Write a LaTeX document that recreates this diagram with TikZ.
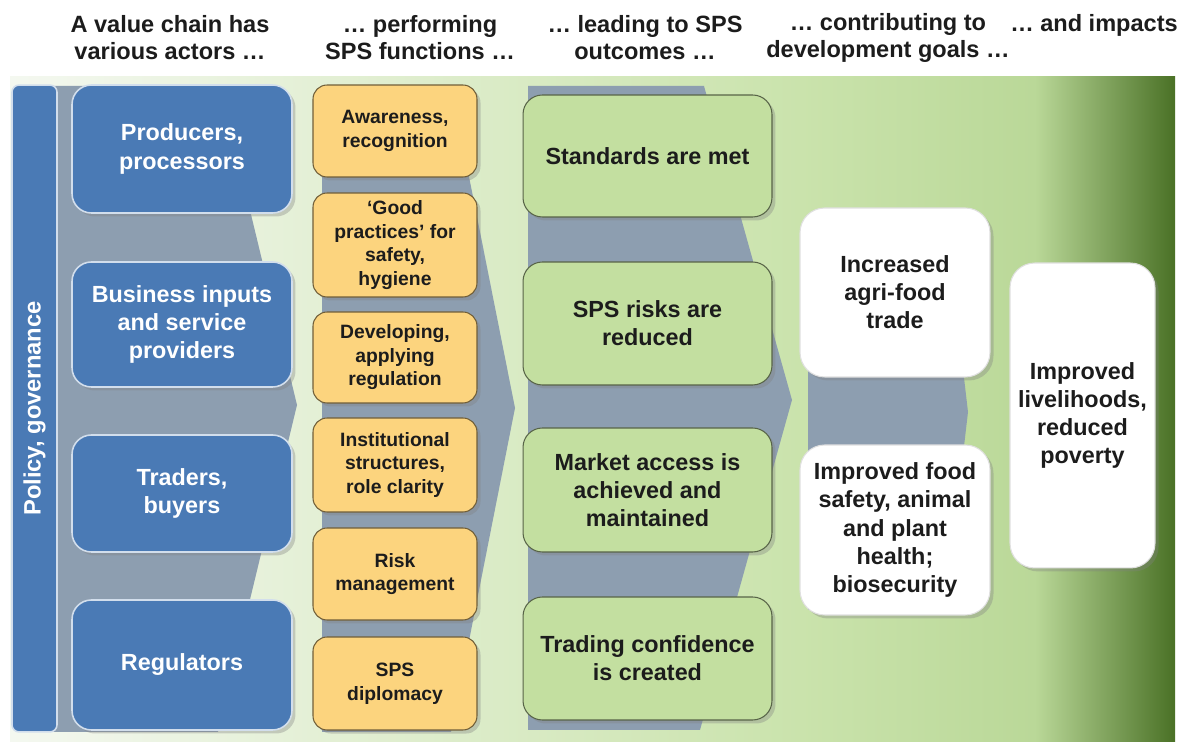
\documentclass[tikz,border=0pt]{standalone}
\usepackage{fontspec}
\setmainfont{Liberation Sans}
\usetikzlibrary{shadows}

\definecolor{actorblue}{HTML}{4A7AB5}
\definecolor{funcyellow}{HTML}{FCD47E}
\definecolor{outgreen}{HTML}{C3DFA0}
\definecolor{chevgray}{HTML}{8D9EB0}
\definecolor{bgpale}{HTML}{F4F8F0}
\definecolor{bgmid}{HTML}{CAE3AC}
\definecolor{bglight}{HTML}{BAD898}
\definecolor{bgdark}{HTML}{4A7126}
\definecolor{textdark}{HTML}{1C1C1C}

\tikzset{
  box/.style={rounded corners=11pt, align=center, inner sep=2pt, text=textdark,
    font=\bfseries\fontsize{13.3}{16}\selectfont,
    drop shadow={shadow xshift=2pt, shadow yshift=-2pt, opacity=0.35}},
  actor/.style={box, fill=actorblue, draw=actorblue!25!white, line width=0.9pt,
    text=white, minimum width=4.4cm},
  func/.style={box, fill=funcyellow, draw=funcyellow!45!black, line width=0.6pt,
    rounded corners=8pt, font=\bfseries\fontsize{11}{13.4}\selectfont, minimum width=3.28cm},
  outcome/.style={box, fill=outgreen, draw=outgreen!45!black, line width=0.6pt,
    minimum width=4.98cm},
  goal/.style={box, fill=white, draw=black!12, line width=0.6pt, rounded corners=14pt},
  policybar/.style={fill=actorblue, draw=actorblue!25!white, line width=0.9pt,
    rounded corners=4pt, text=white, font=\bfseries\fontsize{13.5}{16}\selectfont},
  head/.style={align=center, text=textdark, font=\bfseries\fontsize{13.4}{15.4}\selectfont},
  chevron/.style={fill=chevgray, draw=none},
}

\begin{document}
\begin{tikzpicture}[x=0.02cm, y=-0.02cm]
\useasboundingbox (0,0) rectangle (1188,742);
\fill[white] (0,0) rectangle (1188,742);

% Background
\fill[left color=bgpale, right color=bgmid] (10,77) rectangle (800,742);
\fill[left color=bgmid, right color=bglight] (800,77) rectangle (1035,742);
\fill[left color=bglight, right color=bgdark] (1035,77) rectangle (1175,742);

% Chevrons
\fill[chevron] (50,86) -- (220,86) -- (297,405) -- (218,732) -- (50,732) -- cycle;
\fill[chevron] (322,86) -- (451,86) -- (515,408) -- (451,732) -- (322,732) -- cycle;
\fill[chevron] (528,86) -- (704,86) -- (792,400) -- (700,730) -- (528,730) -- cycle;
\fill[chevron] (808,215) -- (945,215) -- (968,412) -- (945,610) -- (808,610) -- cycle;

% Headings
\node[head] (hactors) at (170,38) {A value chain has\\various actors …};
\node[head] (hfunctions) at (420,38) {… performing\\SPS functions …};
\node[head] (houtcomes) at (645,38) {… leading to SPS\\outcomes …};
\node[head] (hgoals) at (888,38) {… contributing to\\development goals …};
\node[head] (himpacts) at (1094,25) {… and impacts};

% Policy
\node[policybar, rotate=90, minimum width=12.94cm, minimum height=0.9cm] (policy) at (34.5,408.5) {Policy, governance};

% Actors
\node[actor, minimum height=2.56cm] (producers) at (182,149) {Producers,\\processors};
\node[actor, minimum height=2.5cm] (business) at (182,324.5) {Business inputs\\and service\\providers};
\node[actor, minimum height=2.34cm] (traders) at (182,493.5) {Traders,\\buyers};
\node[actor, minimum height=2.6cm] (regulators) at (182,665) {Regulators};

% Functions
\node[func, minimum height=1.84cm] (awareness) at (395,131) {Awareness,\\recognition};
\node[func, minimum height=2.08cm] (practices) at (395,245) {`Good\\practices' for\\safety,\\hygiene};
\node[func, minimum height=1.82cm] (regulation) at (395,357.5) {Developing,\\applying\\regulation};
\node[func, minimum height=1.88cm] (structures) at (395,465) {Institutional\\structures,\\role clarity};
\node[func, minimum height=1.84cm] (riskmgmt) at (395,574) {Risk\\management};
\node[func, minimum height=1.86cm] (diplomacy) at (395,683.5) {SPS\\diplomacy};

% Outcomes
\node[outcome, minimum height=2.44cm] (standards) at (647.5,156) {Standards are met};
\node[outcome, minimum height=2.46cm] (risks) at (647.5,323.5) {SPS risks are\\reduced};
\node[outcome, minimum height=2.48cm] (access) at (647.5,490) {Market access is\\achieved and\\maintained};
\node[outcome, minimum height=2.46cm] (confidence) at (647.5,658.5) {Trading confidence\\is created};

% Goals and impacts
\node[goal, minimum width=3.8cm, minimum height=3.38cm] (trade) at (895,292.5) {Increased\\agri-food\\trade};
\node[goal, minimum width=3.8cm, minimum height=3.4cm] (foodsafety) at (895,530) {Improved food\\safety, animal\\and plant\\health;\\biosecurity};
\node[goal, minimum width=2.9cm, minimum height=6.1cm] (livelihoods) at (1082.5,415.5) {Improved\\livelihoods,\\reduced\\poverty};

\end{tikzpicture}
\end{document}
